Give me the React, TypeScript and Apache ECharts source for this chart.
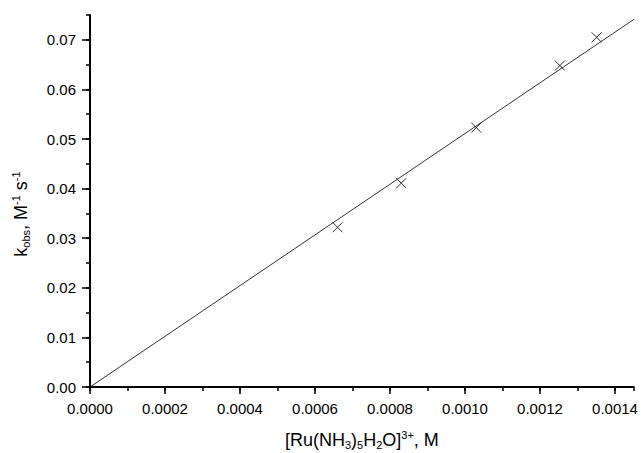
import React, { useEffect, useRef } from "react";
import * as echarts from "echarts";

const concentration = [0.00066, 0.00083, 0.00103, 0.001253, 0.001351];
const kObs = [0.0322, 0.0411, 0.0523, 0.0648, 0.0705];
const fitX = [0, 0.00145];
const fitY = [0, 0.0741];
const xMajorTicks = [0, 0.0002, 0.0004, 0.0006, 0.0008, 0.001, 0.0012, 0.0014];
const yMajorTicks = [0, 0.01, 0.02, 0.03, 0.04, 0.05, 0.06, 0.07];

const FONT = "Liberation Sans, Arial, sans-serif";

export default function App() {
  const ref = useRef<HTMLDivElement>(null);
  useEffect(() => {
    if (!ref.current) return;
    const chart = echarts.init(ref.current, null, { renderer: "svg" });
    const titleRich = {
      a: { fontSize: 18, fontFamily: FONT, color: "#000", lineHeight: 26, verticalAlign: "middle" },
      sub: { fontSize: 11, fontFamily: FONT, color: "#000", lineHeight: 26, verticalAlign: "bottom", padding: [0, 0, 3, 0] },
      sup: { fontSize: 11, fontFamily: FONT, color: "#000", lineHeight: 26, verticalAlign: "top", padding: [2, 0, 0, 0] },
    };
    const axisLineStyle = { show: true, lineStyle: { color: "#000", width: 2 } };
    chart.setOption({
      animation: false,
      backgroundColor: "#fff",
      grid: { left: 90, right: 7.25, top: 15, bottom: 66, containLabel: false, outerBoundsMode: "none" },
      xAxis: [
        {
          type: "value",
          min: 0,
          max: 0.00145,
          interval: 0.0001,
          axisLine: { ...axisLineStyle, onZero: false },
          axisTick: { show: true, length: 4, inside: false, lineStyle: { color: "#000", width: 1.5 } },
          axisLabel: { show: false },
          splitLine: { show: false },
          name: "{a|[Ru(NH}{sub|3}{a|)}{sub|5}{a|H}{sub|2}{a|O]}{sup|3+}{a|, M}",
          nameLocation: "middle",
          nameGap: 40,
          nameTextStyle: { rich: titleRich },
        },
        {
          type: "value",
          min: 0,
          max: 0.00145,
          position: "bottom",
          axisLine: { show: false, onZero: false },
          axisTick: { show: true, length: 7, customValues: xMajorTicks, lineStyle: { color: "#000", width: 1.5 } },
          axisLabel: {
            show: true,
            customValues: xMajorTicks,
            margin: 14,
            fontSize: 15,
            fontFamily: FONT,
            color: "#000",
            formatter: (v: number) => v.toFixed(4),
          },
          splitLine: { show: false },
        },
      ],
      yAxis: [
        {
          type: "value",
          min: 0,
          max: 0.075,
          interval: 0.005,
          axisLine: { ...axisLineStyle, onZero: false },
          axisTick: { show: true, length: 4, lineStyle: { color: "#000", width: 1.5 } },
          axisLabel: { show: false },
          splitLine: { show: false },
          name: "{a|k}{sub|obs}{a|, M}{sup|-1}{a| s}{sup|-1}",
          nameLocation: "middle",
          nameGap: 56,
          nameTextStyle: { rich: titleRich, padding: [0, 26, 0, 0] },
        },
        {
          type: "value",
          min: 0,
          max: 0.075,
          position: "left",
          axisLine: { show: false, onZero: false },
          axisTick: { show: true, length: 8, customValues: yMajorTicks, lineStyle: { color: "#000", width: 1.5 } },
          axisLabel: {
            show: true,
            customValues: yMajorTicks,
            margin: 14,
            fontSize: 15,
            fontFamily: FONT,
            color: "#000",
            formatter: (v: number) => v.toFixed(2),
          },
          splitLine: { show: false },
        },
      ],
      series: [
        {
          type: "line",
          data: fitX.map((x, i) => [x, fitY[i]]),
          showSymbol: false,
          symbol: "none",
          lineStyle: { color: "#000", width: 0.8 },
          silent: true,
        },
        {
          type: "scatter",
          data: concentration.map((x, i) => [x, kObs[i]]),
          symbol: "path://M0,0L10,10M10,0L0,10",
          symbolSize: 10,
          itemStyle: { color: "none", borderColor: "#000", borderWidth: 1 },
        },
      ],
    });
    return () => chart.dispose();
  }, []);
  return <div ref={ref} style={{ width: 641, height: 453, position: "absolute", left: 0, top: 0 }} />;
}
